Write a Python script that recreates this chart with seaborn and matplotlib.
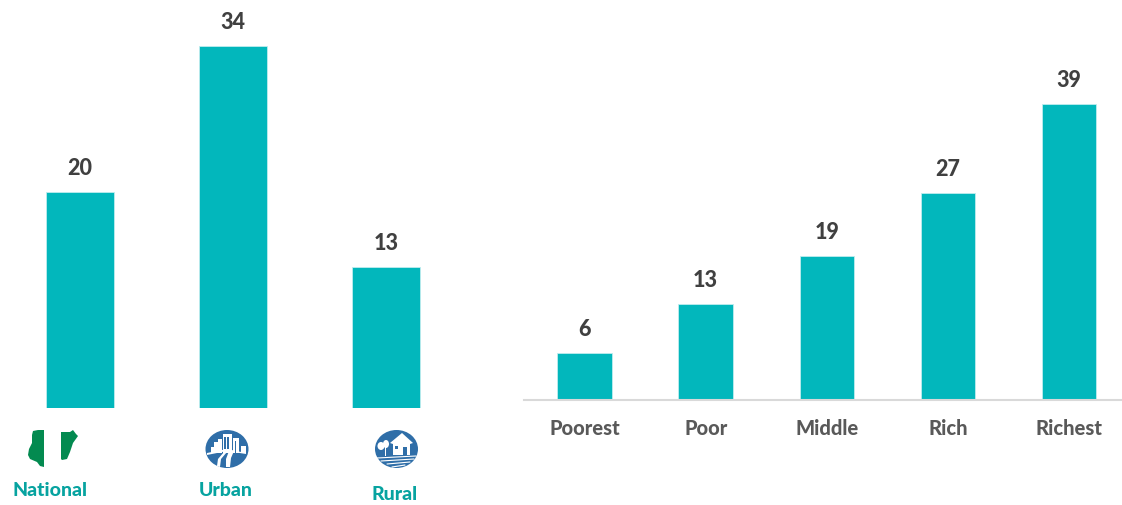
"""Two bar panels: national/urban/rural and wealth quintiles, saved to out.png."""
import matplotlib
matplotlib.use('Agg')
import matplotlib.pyplot as plt
from matplotlib.patches import Ellipse, Polygon, Rectangle
import seaborn as sns

sns.set_theme(style='white')
plt.rcParams['font.family'] = ['Lato', 'DejaVu Sans']

# --- data ---
area_names = ['National', 'Urban', 'Rural']
area_values = [20.3, 34, 13.2]
wealth_names = ['Poorest', 'Poor', 'Middle', 'Rich', 'Richest']
wealth_values = [6.2, 12.6, 19.0, 27.3, 39]

BAR = '#02B7BC'
TEAL = '#07A3A0'
GREY = '#595959'
DARK = '#404040'
GREEN = '#038A50'
BLUE = '#2F6EA8'

W, H = 1122, 505
fig = plt.figure(figsize=(W / 100, H / 100), dpi=100)
fig.patch.set_facecolor('white')


def px_axes(x0, x1, y_top, y_base):
    # axes rectangle given in image pixels
    return fig.add_axes([x0 / W, 1 - y_base / H, (x1 - x0) / W, (y_base - y_top) / H])


def draw_bars(ax, names, values, ymax):
    sns.barplot(x=names, y=values, color=BAR, saturation=1, width=0.45, ax=ax,
                edgecolor='#BFEDEE', linewidth=0.6)
    ax.set_xlim(-0.5, len(names) - 0.5)
    ax.set_ylim(0, ymax)
    ax.set_yticks([])
    ax.set_ylabel('')
    ax.patch.set_alpha(0)
    sns.despine(ax=ax, left=True, bottom=True)
    ax.bar_label(ax.containers[0], labels=[str(round(v)) for v in values], padding=9.5,
                 fontsize=15.5, fontweight='black', color=DARK)


# left panel
ax1 = px_axes(3.5, 462.5, 46, 408)
draw_bars(ax1, area_names, area_values, 34)
ax1.set_xticks([])

# right panel
ax2 = px_axes(524, 1129.5, 104, 400)
draw_bars(ax2, wealth_names, wealth_values, 39)
ax2.spines['bottom'].set_visible(True)
ax2.spines['bottom'].set_color('#D9D9D9')
ax2.spines['bottom'].set_linewidth(1.5)
ax2.tick_params(axis='x', length=0, pad=13.5)
for lab in ax2.get_xticklabels():
    lab.set_fontsize(14.5)
    lab.set_fontweight('black')
    lab.set_color(GREY)

# overlay in image pixels for the icons and the left captions
ov = fig.add_axes([0, 0, 1, 1])
ov.set_xlim(0, W)
ov.set_ylim(H, 0)
ov.axis('off')
ov.patch.set_alpha(0)

for name, x, y in zip(area_names, [50, 226, 394.5], [491, 491, 495]):
    ov.text(x, y, name, color=TEAL, fontsize=14, fontweight='black', ha='center', va='center')

# Nigeria map, the flag's white band splits it in two
ov.add_patch(Polygon([(33, 431), (38, 430), (44, 430), (44, 467), (40, 466), (37, 462),
                      (30, 459), (28, 455), (29, 449), (32, 443), (32, 435)],
                     color=GREEN, lw=0))
ov.add_patch(Polygon([(61, 432), (70, 432), (73, 430), (76, 434), (78, 436), (73, 443),
                      (70, 452), (67, 459), (62, 460), (61, 459)],
                     color=GREEN, lw=0))

# urban badge
ov.add_patch(Ellipse((227, 449), 43, 38, color=BLUE, lw=0))
for x, y0, w in [(211, 447, 3), (214, 442, 4), (218, 439, 4), (223, 434, 9), (233, 438, 6),
                 (241, 446, 5)]:
    ov.add_patch(Rectangle((x, y0), w, 453 - y0, color='white', lw=0))
ov.add_patch(Polygon([(207, 453), (227, 449), (246, 453), (246, 454), (227, 451), (207, 455)],
                     color='white', lw=0))
# road
ov.add_patch(Polygon([(229, 451), (234, 451), (231, 458), (230, 467), (226, 467), (226, 459)],
                     color='white', lw=0))
ov.add_patch(Polygon([(224, 452), (227, 452), (221, 459), (220, 467), (217, 466), (218, 459)],
                     color='white', lw=0))
for x, y0 in [(224.5, 437), (227.5, 437), (235, 441)]:
    ov.add_patch(Rectangle((x, y0), 1.5, 12, color=BLUE, lw=0))

# rural badge
ov.add_patch(Ellipse((396.5, 449), 43, 38, color=BLUE, lw=0))
ov.add_patch(Polygon([(390, 443), (402, 433), (413, 443), (410, 444), (410, 455), (393, 455),
                      (393, 444)], color='white', lw=0))
ov.add_patch(Rectangle((403, 447), 4, 8, color=BLUE, lw=0))
ov.add_patch(Rectangle((395, 446), 3.5, 3, color=BLUE, lw=0))
ov.add_patch(Ellipse((381, 446), 7, 8, color='white', lw=0))
ov.add_patch(Ellipse((386, 444), 6, 8, color='white', lw=0))
ov.add_patch(Rectangle((385, 447), 1.5, 9, color='white', lw=0))
for y0, y1, x0, x1 in [(458, 456, 377, 416), (461, 459, 381, 414), (464, 462, 387, 410),
                       (467, 465, 392, 405)]:
    ov.plot([x0, x1], [y0, y1], color='white', lw=0.8)

fig.savefig('out.png', dpi=100, facecolor='white')
